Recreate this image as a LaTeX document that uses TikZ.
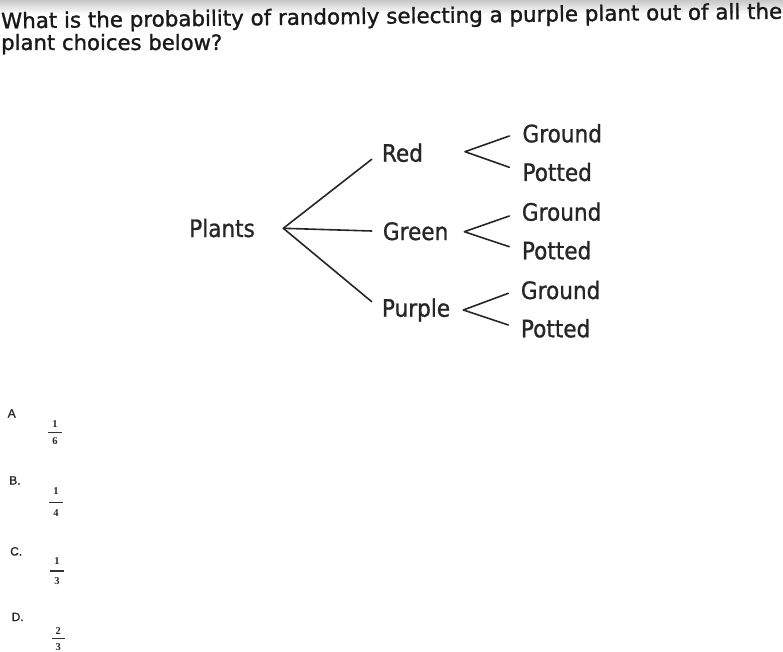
\documentclass[tikz,border=0pt]{standalone}
\usepackage{fontspec}
\setmainfont[FakeBold=1.3]{DejaVu Sans}
\newfontfamily\treefont[FakeStretch=0.9,FakeBold=1]{DejaVu Sans}
\newfontfamily\optfont[FakeBold=1.2]{Liberation Sans}
\newfontfamily\digfont{Liberation Serif}
\usetikzlibrary{calc}
\begin{document}
\begin{tikzpicture}[x=1pt,y=-1pt,
  lbl/.style={font=\treefont\fontsize{24}{28}\selectfont, text=black!85, inner sep=0pt, anchor=base west},
  ttl/.style={font=\fontsize{21}{24}\selectfont, text=black!90, inner sep=0pt, anchor=base west},
  edge/.style={line width=1.6pt, draw=black!85, line cap=round, line join=round},
  opt/.style={font=\optfont\fontsize{12}{14}\selectfont, text=black!85, inner sep=0pt, anchor=base west},
  dig/.style={font=\digfont\bfseries\fontsize{10.5}{12}\selectfont, text=black!85, inner sep=0pt},
  bar/.style={line width=1.4pt, draw=black!80}]
\useasboundingbox (0,0) rectangle (783,652);
\shade[top color=black!22, bottom color=white] (0,0) rectangle (783,14);

% title
\node[ttl, rotate=0.72] (t1) at (1,28.5) {\resizebox{781pt}{!}{What is the probability of randomly selecting a purple plant out of all the}};
\node[ttl] (t2) at (1,50) {\resizebox{221pt}{!}{plant choices below?}};

% tree
\node[lbl] (plants) at (189,237) {Plants};
\node[lbl] (red) at (381.7,161.7) {Red};
\node[lbl] (green) at (382.7,240) {Green};
\node[lbl] (purple) at (381.7,316.7) {Purple};
\node[lbl] (g1) at (522.3,142.3) {Ground};
\node[lbl] (p1) at (522.3,181) {Potted};
\node[lbl] (g2) at (521.7,220.7) {Ground};
\node[lbl] (p2) at (521.7,259.3) {Potted};
\node[lbl] (g3) at (520.7,299) {Ground};
\node[lbl] (p3) at (520.7,337.3) {Potted};

\coordinate (root) at (283.3,228.3);
\coordinate (rE) at (371.7,159.3);
\coordinate (gE) at (371.7,231);
\coordinate (pE) at (371.7,301.7);
\draw[edge] (rE) -- (root) -- (pE);
\draw[edge] (root) -- (gE);

\coordinate (rv) at (465,151.7);
\coordinate (rg) at (509.3,136);
\coordinate (rp) at (509.3,167.3);
\coordinate (gv) at (464.3,231.7);
\coordinate (gg) at (509.3,216);
\coordinate (gp) at (509.3,246.7);
\coordinate (pv) at (463.3,310);
\coordinate (pg) at (508.3,293.3);
\coordinate (pp) at (508.3,325);
\draw[edge] (rg) -- (rv) -- (rp);
\draw[edge] (gg) -- (gv) -- (gp);
\draw[edge] (pg) -- (pv) -- (pp);

% options
\node[opt] (oa) at (7.5,417.5) {A};
\node[opt] (ob) at (9,484.5) {B.};
\node[opt] (oc) at (10,555.5) {C.};
\node[opt] (od) at (11.5,621) {D.};

\node[dig] (na) at (55,423.7) {1};
\node[dig] (da) at (55,441) {6};
\draw[bar] (48.3,432.7) -- (61.7,432.7);
\node[dig] (nb) at (56,491.5) {1};
\node[dig] (db) at (56,513) {4};
\draw[bar] (49,502.7) -- (63,502.7);
\node[dig] (nc) at (57,561) {1};
\node[dig] (dc) at (57,581) {3};
\draw[bar] (50,571) -- (64,571);
\node[dig] (nd) at (58.3,631.5) {2};
\node[dig] (dd) at (58.3,647) {3};
\draw[bar] (51.7,638.3) -- (65,638.3);
\end{tikzpicture}
\end{document}
